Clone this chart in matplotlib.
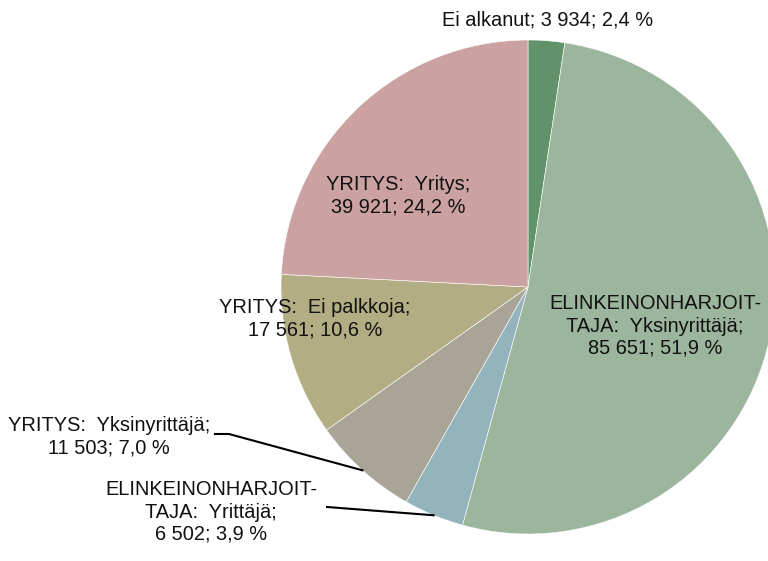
import matplotlib.pyplot as plt
import numpy as np

plt.rcParams['font.family'] = ['Liberation Sans', 'DejaVu Sans']

categories = ['Ei alkanut', 'ELINKEINONHARJOIT-\nTAJA:  Yksinyrittäjä', 'ELINKEINONHARJOIT-\nTAJA:  Yrittäjä',
              'YRITYS:  Yksinyrittäjä', 'YRITYS:  Ei palkkoja', 'YRITYS:  Yritys']
values = [3934, 85651, 6502, 11503, 17561, 39921]
percents = ['2,4', '51,9', '3,9', '7,0', '10,6', '24,2']
colors = ['#62926A', '#9CB59D', '#93B3BD', '#A8A597', '#B3AD84', '#CBA1A2']

W, H = 768, 561
fig = plt.figure(figsize=(W / 100, H / 100), dpi=100)
ax = fig.add_axes([0, 0, 1, 1])

cx, cy, r = 528, H - 287, 247
wedges, _ = ax.pie(values, colors=colors, startangle=90, counterclock=False,
                   center=(cx, cy), radius=r, frame=True,
                   wedgeprops=dict(edgecolor='white', linewidth=0.4))
ax.set_xlim(0, W)
ax.set_ylim(0, H)
ax.set_aspect('equal')
ax.axis('off')


def fmt(v):
    return f'{v:,}'.replace(',', ' ')


def label(i, sep=';\n'):
    return f'{categories[i]}{sep}{fmt(values[i])}; {percents[i]} %'


fs = 14.4
ls = 1.21
# label positions in pixels from the top-left corner
pos = [(548, 20), (655, 326), (211, 512), (109, 437), (315, 319), (398, 196)]
for i, (x, y) in enumerate(pos):
    sep = '; ' if i == 0 else ';\n'
    ax.text(x, H - y, label(i, sep), ha='center', va='center', fontsize=fs,
            linespacing=ls, color='#111111')


def edge_point(i):
    w = wedges[i]
    ang = np.deg2rad((w.theta1 + w.theta2) / 2)
    return cx + r * np.cos(ang), cy + r * np.sin(ang)


# leader lines
ex, ey = edge_point(3)
ax.plot([215, 229, ex], [H - 434, H - 434, ey], color='black', lw=1.5)
ex, ey = edge_point(2)
ax.plot([327, ex], [H - 507, ey], color='black', lw=1.5)

fig.savefig('out.png', dpi=100)
